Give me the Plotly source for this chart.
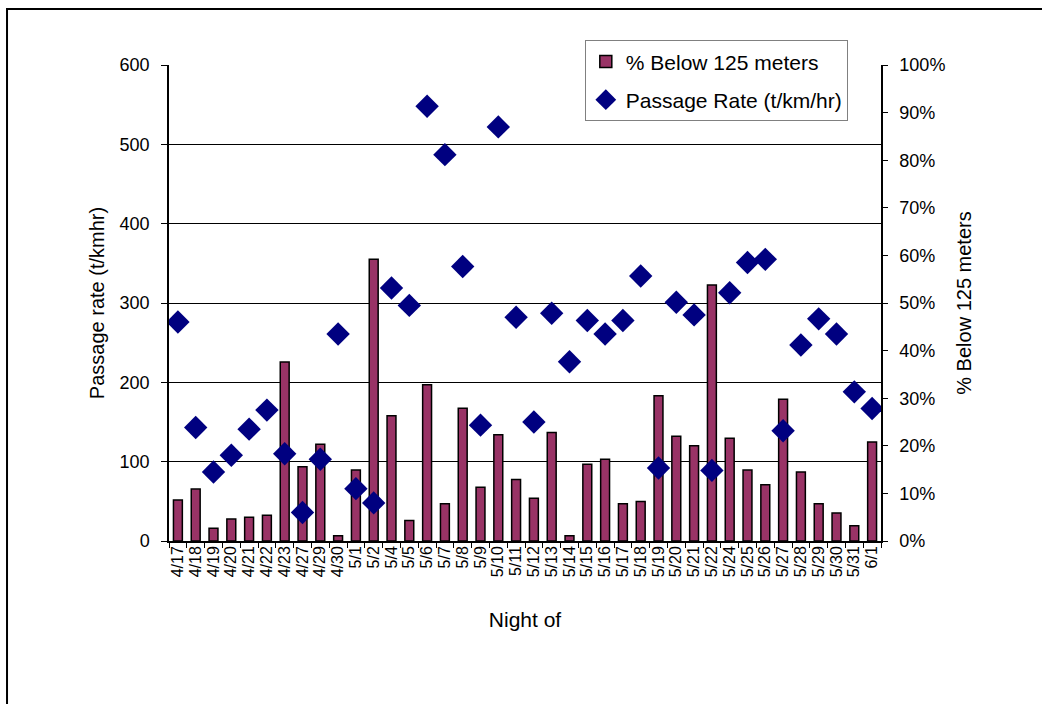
import plotly.graph_objects as go

nights = ["4/17","4/18","4/19","4/20","4/21","4/22","4/23","4/27","4/29","4/30",
          "5/1","5/2","5/4","5/5","5/6","5/7","5/8","5/9","5/10","5/11",
          "5/12","5/13","5/14","5/15","5/16","5/17","5/18","5/19","5/20","5/21",
          "5/22","5/24","5/25","5/26","5/27","5/28","5/29","5/30","5/31","6/1"]

passage_rate = [276, 143, 87, 108, 141, 165, 110, 36, 103, 261,
                66, 48, 319, 297, 548, 487, 346, 146, 522, 282,
                150, 287, 226, 278, 261, 278, 334, 92, 301, 285,
                89, 313, 351, 355, 139, 247, 280, 261, 188, 167]

pct_below_125 = [8.6, 10.9, 2.7, 4.6, 5.0, 5.4, 37.6, 15.6, 20.3, 1.1,
                 14.9, 59.2, 26.3, 4.3, 32.8, 7.8, 27.9, 11.3, 22.3, 12.9,
                 9.0, 22.8, 1.1, 16.1, 17.2, 7.8, 8.3, 30.5, 22.0, 20.0,
                 53.8, 21.6, 14.9, 11.8, 29.8, 14.5, 7.8, 5.9, 3.2, 20.8]

FONT = "Liberation Sans, Arial, sans-serif"

fig = go.Figure()
fig.add_trace(go.Bar(
    x=nights, y=pct_below_125, name="% Below 125 meters",
    marker=dict(color="#993366", line=dict(color="#000000", width=1.5)),
    width=0.5, yaxis="y", legendgroup="a",
))
fig.add_trace(go.Scatter(
    x=nights, y=passage_rate, name="Passage Rate (t/km/hr)", mode="markers",
    marker=dict(symbol="diamond", size=18, color="#000080"),
    yaxis="y2", legendgroup="b",
))

fig.update_layout(
    width=1042, height=704,
    margin=dict(l=169, r=161, t=65, b=163),
    paper_bgcolor="white", plot_bgcolor="white",
    font=dict(family=FONT, color="#000000", size=18),
    showlegend=True,
    legend=dict(
        x=0.584, y=1.052, xanchor="left", yanchor="top",
        bgcolor="white", bordercolor="#808080", borderwidth=1,
        font=dict(size=21, family=FONT),
        traceorder="grouped", tracegroupgap=8,
    ),
    xaxis=dict(
        type="category", range=[-0.5, len(nights) - 0.5],
        tickmode="linear", dtick=1,
        tickangle=-90, tickfont=dict(size=16),
        ticks="outside", ticklen=5, tickcolor="#000", tickson="boundaries",
        ticklabelstandoff=-3,
        showline=True, linecolor="#000", linewidth=1.5, showgrid=False,
        title=dict(text="Night of", font=dict(size=21), standoff=36),
    ),
    yaxis=dict(
        side="right", range=[0, 100], dtick=10, ticksuffix="%",
        showgrid=False, zeroline=False,
        ticks="outside", ticklen=5, tickcolor="#000",
        showline=True, linecolor="#000", linewidth=1.5,
        ticklabelstandoff=8,
        title=dict(text="% Below 125 meters", font=dict(size=20), standoff=13),
    ),
    yaxis2=dict(
        overlaying="y", side="left", range=[0, 600], dtick=100,
        showgrid=True, gridcolor="#000", gridwidth=1, zeroline=False,
        ticks="outside", ticklen=6, tickcolor="#000",
        showline=True, linecolor="#000", linewidth=1.5,
        ticklabelstandoff=8,
        title=dict(text="Passage rate (t/kmhr)", font=dict(size=20), standoff=10),
    ),
    bargap=0.5,
)

# outer chart frame (extends past the right and bottom edges)
fig.add_shape(type="rect", xref="paper", yref="paper",
              x0=-0.2275, x1=1.5, y0=-0.6, y1=1.1176,
              line=dict(color="#000", width=2), fillcolor="rgba(0,0,0,0)", layer="below")

fig.write_html("out.html", config={"displayModeBar": False},
               post_script="document.body.style.margin='0';")
